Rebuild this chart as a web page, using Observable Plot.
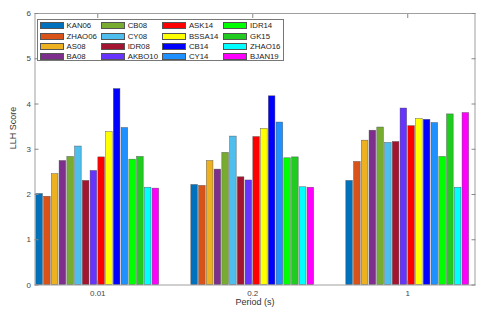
<!DOCTYPE html>
<html><head><meta charset="utf-8">
<script src="https://cdn.jsdelivr.net/npm/d3@7"></script>
<script src="https://cdn.jsdelivr.net/npm/@observablehq/plot@0.6"></script>
<style>
body{margin:0;background:#fff;font-family:"Liberation Sans",Arial,sans-serif;}
#wrap{position:relative;width:500px;height:313px;}
#legend{position:absolute;left:37px;top:19px;width:247px;height:42px;border:0.8px solid #777;background:#fff;box-sizing:border-box;}
.item{position:absolute;display:flex;align-items:center;height:8px;font-size:7.8px;color:#222;white-space:nowrap;}
.sw{width:24px;height:7px;box-sizing:border-box;border:0.6px solid #555;margin-right:3px;flex:none;}
</style></head><body><div id="wrap"></div>
<script>
const periods = ["0.01", "0.2", "1"];
const models = ["KAN06","ZHAO06","AS08","BA08","CB08","CY08","IDR08","AKBO10",
                "ASK14","BSSA14","CB14","CY14","IDR14","GK15","ZHAO16","BJAN19"];
const colors = ["#0072BD","#D95319","#EDB120","#7E2F8E","#77AC30","#4DBEEE","#A2142F","#6633FF",
                "#FF0000","#FFFF00","#0000FF","#1E90FF","#00FF00","#1FCC1F","#00FFFF","#FF00FF"];
const llhP001 = [2.01,1.95,2.45,2.74,2.83,3.06,2.30,2.52,2.82,3.38,4.33,3.47,2.77,2.83,2.15,2.13];
const llhP02  = [2.21,2.19,2.74,2.55,2.92,3.28,2.38,2.31,3.27,3.45,4.17,3.59,2.80,2.82,2.16,2.15];
const llhP1   = [2.30,2.72,3.19,3.41,3.48,3.14,3.16,3.90,3.51,3.67,3.65,3.58,2.83,3.77,2.15,3.80];
const yTicks = [0,1,2,3,4,5,6];

const series = [llhP001, llhP02, llhP1];
const slot = 0.05, half = 0.0213;
const rows = periods.flatMap((p, gi) => models.map((m, si) => {
  const c = gi + 1 + (si - (models.length - 1) / 2) * slot;
  return {period: p, model: m, llh: series[gi][si], x1: c - half, x2: c + half};
}));

const chart = Plot.plot({
  width: 500, height: 313,
  marginTop: 13, marginBottom: 28.5, marginLeft: 34.5, marginRight: 25.5,
  x: {domain: [0.595, 3.434], axis: null},
  y: {domain: [0, 6], axis: null},
  color: {domain: models, range: colors},
  style: {fontFamily: "Liberation Sans, Arial, sans-serif", fontSize: "8px", color: "#444", background: "#fff"},
  marks: [
    Plot.rectY(rows, {x1: "x1", x2: "x2", y: "llh", fill: "model", stroke: "#444", strokeWidth: 0.5, strokeOpacity: 0.8}),
    Plot.frame({stroke: "#888", strokeWidth: 0.8}),
    Plot.axisX({ticks: [1, 2, 3], tickFormat: d => periods[d - 1], tickSize: -4, tickPadding: 9, label: null, stroke: "#888"}),
    Plot.axisX({anchor: "top", ticks: [1, 2, 3], tickSize: -4, tickFormat: () => "", label: null, stroke: "#888"}),
    Plot.axisY({ticks: yTicks, tickSize: -4, tickPadding: 8, tickFormat: d => String(d), label: null, stroke: "#888"}),
    Plot.axisY({anchor: "right", ticks: yTicks, tickSize: -4, tickFormat: () => "", label: null, stroke: "#888"}),
    Plot.text(["Period (s)"], {frameAnchor: "bottom", dy: 20, fontSize: 9, fill: "#333"}),
    Plot.text(["LLH Score"], {frameAnchor: "left", dx: -21.5, rotate: -90, fontSize: 9, fill: "#333"})
  ]
});

const wrap = document.getElementById("wrap");
wrap.appendChild(chart);
const legend = document.createElement("div");
legend.id = "legend";
models.forEach((m, i) => {
  const c = Math.floor(i / 4), r = i % 4;
  const it = document.createElement("div");
  it.className = "item";
  it.style.left = (1.5 + c * 61.2) + "px";
  it.style.top = (1.8 + r * 10.2) + "px";
  const sw = document.createElement("div");
  sw.className = "sw";
  sw.style.background = colors[i];
  it.appendChild(sw);
  it.appendChild(document.createTextNode(m));
  legend.appendChild(it);
});
wrap.appendChild(legend);
</script>
</body></html>
